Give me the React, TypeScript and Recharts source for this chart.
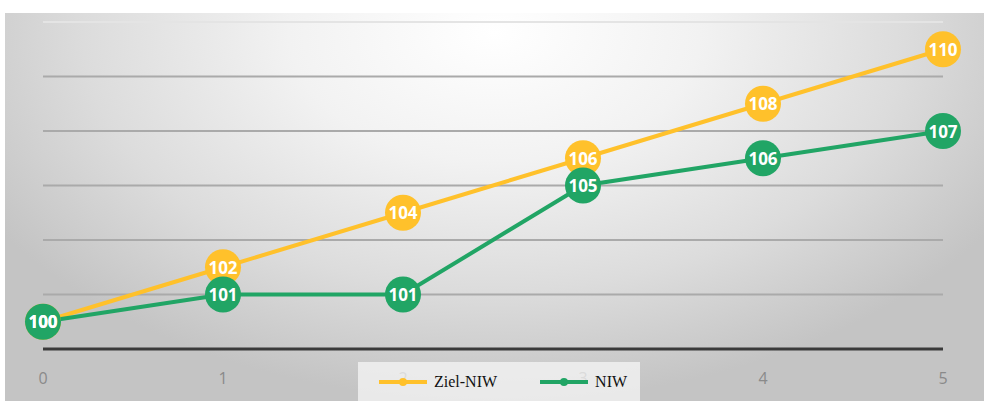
import React, { ReactElement } from 'react';
import {
  LineChart, Line, XAxis, YAxis, CartesianGrid, LabelList, ReferenceLine,
} from 'recharts';

const periods = [0, 1, 2, 3, 4, 5];
const zielNiw = [100, 102, 104, 106, 108, 110];
const niw = [100, 101, 101, 105, 106, 107];
const gridTicks = [99, 101, 103, 105, 107, 109];

const YELLOW = '#FFC12B';
const GREEN = '#21A565';

const data = periods.map((p, i) => ({ x: p, ziel: zielNiw[i], niw: niw[i] }));

// big filled circle used as the marker, value goes on top via LabelList
const makeDot = (color: string) => (props: any) => {
  const { cx, cy, index } = props;
  if (cx == null || cy == null) return <g key={`d-${index}`} />;
  return <circle key={`d-${index}`} cx={cx} cy={cy} r={18} fill={color} />;
};

const valueLabel = (props: any) => {
  const { x, y, value, index } = props;
  return (
    <text
      key={`l-${index}`}
      x={x}
      y={y}
      fill="#fff"
      textAnchor="middle"
      dominantBaseline="central"
      style={{ fontFamily: '"Open Sans", sans-serif', fontWeight: 700, fontSize: 17 }}
    >
      {value}
    </text>
  );
};

function LegendBox(): ReactElement {
  const item = (color: string, label: string, gap: number) => (
    <div style={{ display: 'flex', alignItems: 'center', marginRight: gap }}>
      <svg width={48} height={12} style={{ marginRight: 7 }}>
        <line x1={0} y1={6} x2={48} y2={6} stroke={color} strokeWidth={4} />
        <circle cx={24} cy={6} r={4} fill={color} />
      </svg>
      <span style={{ fontFamily: '"Liberation Serif", serif', fontSize: 16, color: '#111' }}>{label}</span>
    </div>
  );
  return (
    <div
      style={{
        position: 'absolute',
        left: 358,
        top: 362,
        width: 282,
        height: 39,
        background: 'rgba(246,246,246,0.75)',
        display: 'flex',
        alignItems: 'center',
        paddingLeft: 21,
        boxSizing: 'border-box',
      }}
    >
      {item(YELLOW, 'Ziel-NIW', 43)}
      {item(GREEN, 'NIW', 0)}
    </div>
  );
}

export default function App(): ReactElement {
  return (
    <div style={{
      position: 'fixed', left: 0, top: 0, width: 984, height: 401, background: '#fff',
    }}
    >
      <div
        style={{
          position: 'absolute',
          left: 5,
          top: 13,
          width: 979,
          height: 388,
          background: 'radial-gradient(ellipse 60% 95% at 50% 5%, #ffffff 0%, #f2f2f2 35%, #dcdcdc 70%, #c4c4c4 100%)',
        }}
      >
        <LineChart
          width={979}
          height={388}
          data={data}
          margin={{ top: 9, right: 41, bottom: 22, left: 38 }}
        >
          <CartesianGrid vertical={false} stroke="#aaaaaa" strokeWidth={2} />
          <ReferenceLine y={111} stroke="#e4e4e4" strokeWidth={2} />
          <XAxis
            dataKey="x"
            type="number"
            domain={[0, 5]}
            ticks={periods}
            height={30}
            axisLine={{ stroke: '#3a3a3a', strokeWidth: 3 }}
            tickLine={false}
            tickMargin={18}
            tick={{ fill: '#8a8a8a', fontSize: 16, fontFamily: '"Open Sans", sans-serif' }}
          />
          <YAxis hide domain={[99, 111]} ticks={gridTicks} />
          <Line
            dataKey="ziel"
            stroke={YELLOW}
            strokeWidth={4}
            dot={makeDot(YELLOW)}
            activeDot={false}
            isAnimationActive={false}
          >
            <LabelList dataKey="ziel" content={valueLabel} />
          </Line>
          <Line
            dataKey="niw"
            stroke={GREEN}
            strokeWidth={4}
            dot={makeDot(GREEN)}
            activeDot={false}
            isAnimationActive={false}
          >
            <LabelList dataKey="niw" content={valueLabel} />
          </Line>
        </LineChart>
      </div>
      <LegendBox />
    </div>
  );
}
